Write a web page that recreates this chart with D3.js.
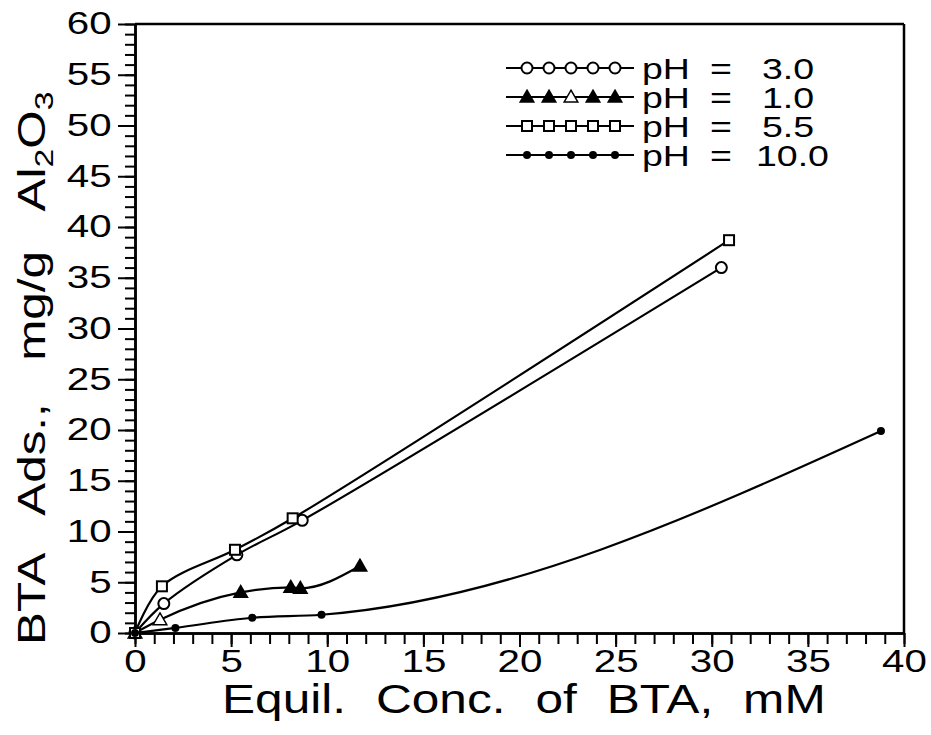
<!DOCTYPE html>
<html>
<head>
<meta charset="utf-8">
<script src="https://cdn.jsdelivr.net/npm/d3@7"></script>
<style>
  body { margin: 0; background: #fff; }
  svg { display: block; }
  text { font-family: "Liberation Sans", Arial, sans-serif; fill: #000; }
</style>
</head>
<body>
<svg id="chart" width="931" height="735"></svg>
<script>
// data: [Equil. conc. (mM), BTA ads. (mg/g)]
const ph3 = [[0, 0], [1.5, 2.9], [5.3, 7.7], [8.7, 11.1], [30.5, 36.0]]
const ph1 = [[0, 0], [1.3, 1.3], [5.5, 4.0], [8.1, 4.5], [8.6, 4.4], [11.7, 6.6]]
const ph55 = [[0, 0], [1.4, 4.6], [5.2, 8.2], [8.2, 11.3], [30.9, 38.7]]
const ph10 = [[0, 0], [2.1, 0.5], [6.1, 1.5], [9.7, 1.8], [38.8, 19.9]]

const legendLabels = ['3.0', '1.0', '5.5', '10.0']
const xTicks = [0, 5, 10, 15, 20, 25, 30, 35, 40]
const yTicks = [0, 5, 10, 15, 20, 25, 30, 35, 40, 45, 50, 55, 60]

const series = [
  { name: legendLabels[0], data: ph3, marker: 'circle', curve: d3.curveCatmullRom },
  { name: legendLabels[1], data: ph1, marker: 'triangle', open: [1], curve: d3.curveMonotoneX },
  { name: legendLabels[2], data: ph55, marker: 'square', curve: d3.curveCatmullRom },
  { name: legendLabels[3], data: ph10, marker: 'dot', curve: d3.curveMonotoneX },
]

const svg = d3.select('#chart')

const x = d3.scaleLinear().domain([0, 40]).range([135, 904])
const y = d3.scaleLinear().domain([0, 60]).range([633, 24])

// the original lettering is a wide plotter font, so stretch text sideways
const stretch = 'scale(1.3,1)'

// marker drawing
function drawMarker(g, type, cx, cy, open) {
  if (type === 'circle') {
    g.append('circle').attr('cx', cx).attr('cy', cy).attr('r', 5.5)
      .attr('fill', '#fff').attr('stroke', '#000').attr('stroke-width', 2)
  } else if (type === 'square') {
    g.append('rect').attr('x', cx - 5).attr('y', cy - 5).attr('width', 10).attr('height', 10)
      .attr('fill', '#fff').attr('stroke', '#000').attr('stroke-width', 2)
  } else if (type === 'triangle') {
    g.append('path')
      .attr('d', d3.symbol(d3.symbolTriangle, 80)())
      .attr('transform', `translate(${cx},${cy + 1})`)
      .attr('fill', open ? '#fff' : '#000').attr('stroke', '#000').attr('stroke-width', 1.5)
  } else {
    g.append('circle').attr('cx', cx).attr('cy', cy).attr('r', 4).attr('fill', '#000')
  }
}

// axes: minor + major ticks
const axisStyle = (g) => {
  g.selectAll('path.domain').attr('stroke-width', 2.5)
  g.selectAll('.tick line').attr('stroke-width', 2)
  g.selectAll('text')
    .attr('font-size', 31)
    .attr('font-family', '"Liberation Sans", Arial, sans-serif')
    .attr('transform', stretch)
}

svg.append('g')
  .attr('transform', `translate(0,${y(0)})`)
  .call(d3.axisBottom(x).tickValues(d3.range(0, 41, 1)).tickSize(11).tickFormat('').tickSizeOuter(0))
  .call(axisStyle)
svg.append('g')
  .attr('transform', `translate(0,${y(0)})`)
  .call(d3.axisBottom(x).tickValues(xTicks).tickSize(14).tickPadding(3).tickSizeOuter(0))
  .call(axisStyle)

svg.append('g')
  .attr('transform', `translate(${x(0)},0)`)
  .call(d3.axisLeft(y).tickValues(d3.range(0, 61, 1)).tickSize(10).tickFormat('').tickSizeOuter(0))
  .call(axisStyle)
svg.append('g')
  .attr('transform', `translate(${x(0)},0)`)
  .call(d3.axisLeft(y).tickValues(yTicks).tickSize(17).tickPadding(1).tickSizeOuter(0))
  .call(axisStyle)

// frame top and right
svg.append('line').attr('x1', x(0)).attr('x2', x(40)).attr('y1', y(60)).attr('y2', y(60))
  .attr('stroke', '#000').attr('stroke-width', 2.5)
svg.append('line').attr('x1', x(40)).attr('x2', x(40)).attr('y1', y(60)).attr('y2', y(0))
  .attr('stroke', '#000').attr('stroke-width', 2.5)

// axis titles
svg.append('text')
  .attr('transform', 'translate(222,713) scale(1.24,1)')
  .attr('font-size', 40).attr('word-spacing', 13)
  .text('Equil. Conc. of BTA, mM')

const yTitle = svg.append('text')
  .attr('transform', 'translate(45,645) rotate(-90) scale(1.3,1)')
  .attr('font-size', 38).attr('word-spacing', 22)
yTitle.append('tspan').text('BTA Ads., mg/g Al')
yTitle.append('tspan').attr('font-size', 26).attr('dy', 8).text('2')
yTitle.append('tspan').attr('dy', -8).text('O')
yTitle.append('tspan').attr('font-size', 26).attr('dy', 8).text('3')

// lines + markers
const plot = svg.append('g').attr('id', 'series')
series.forEach((s) => {
  const line = d3.line().x((d) => x(d[0])).y((d) => y(d[1])).curve(s.curve)
  plot.append('path').datum(s.data).attr('d', line)
    .attr('fill', 'none').attr('stroke', '#000').attr('stroke-width', 2.2)
  const mg = plot.append('g')
  s.data.forEach((d, i) => {
    drawMarker(mg, s.marker, x(d[0]), y(d[1]), s.open && s.open.includes(i))
  })
})

// legend
const legend = svg.append('g').attr('id', 'legend')
const legendText = (px, py, str) =>
  legend.append('text')
    .attr('transform', `translate(${px},${py}) scale(1.25,1)`)
    .attr('font-size', 30).text(str)

series.forEach((s, i) => {
  const ly = 68 + i * 29
  legend.append('line').attr('x1', 506).attr('x2', 634).attr('y1', ly).attr('y2', ly)
    .attr('stroke', '#000').attr('stroke-width', 2.2)
  d3.range(5).forEach((k) => {
    drawMarker(legend, s.marker, 527 + k * 22, ly, s.marker === 'triangle' && k === 2)
  })
  legendText(642, ly + 11, 'pH')
  legendText(710, ly + 11, '=')
  legendText(i === 3 ? 756 : 762, ly + 11, s.name)
})
</script>
</body>
</html>
